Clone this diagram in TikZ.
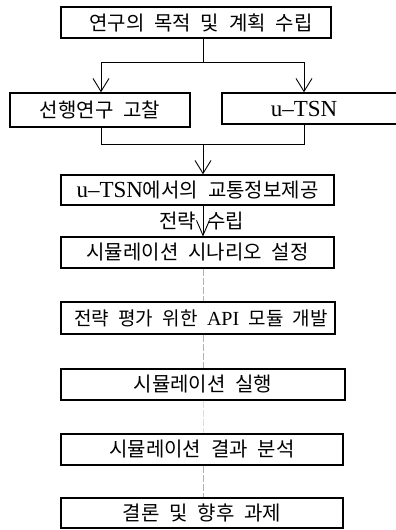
\documentclass[tikz,border=0pt]{standalone}
\usepackage{fontspec}
\setmainfont{Liberation Serif}
\newfontfamily\kr[WordSpace=2.2]{Noto Sans CJK KR}
\usetikzlibrary{arrows.meta}
\newcommand{\lat}[1]{{\fontsize{23}{24}\selectfont\rmfamily #1}}
\begin{document}
\begin{tikzpicture}[x=1pt,y=-1pt,
  box/.style={draw,line width=1.4pt,inner sep=0pt,font=\kr\fontsize{20}{22}\selectfont},
  conn/.style={line width=1pt},
  arr/.style={line width=1pt,-{Straight Barb[length=13pt,width=16pt,line width=0.9pt]}},
  faint/.style={draw=gray!60,line width=0.6pt,dash pattern=on 7pt off 2pt},
  lbl/.style={font=\kr\fontsize{20}{22}\selectfont,inner sep=0pt}]
\useasboundingbox (0,0) rectangle (396,530);
\node[box,minimum width=270pt,minimum height=31pt] (b1) at (196,22.5) {\hspace*{10pt}연구의 목적 및 계획 수립};
\node[box,minimum width=180pt,minimum height=34pt] (b2) at (100,110) {선행연구 고찰};
\node[box,minimum width=190pt,minimum height=31pt] (b3) at (317,108.5) {};
\node[inner sep=0pt] (t3) at (304,108.5) {\lat{u–TSN}};
\node[box,minimum width=273pt,minimum height=30pt] (b4) at (197.5,190) {\lat{u–TSN}에서의 교통정보제공};
\node[box,minimum width=273pt,minimum height=31pt] (b5) at (197.5,252.5) {시뮬레이션 시나리오 설정};
\node[box,minimum width=274pt,minimum height=32pt,font=\kr\fontsize{19}{22}\selectfont] (b6) at (198,318) {\hspace*{6pt}전략 평가 위한 {\fontsize{20}{22}\selectfont\rmfamily API} 모듈 개발};
\node[box,minimum width=284pt,minimum height=31pt] (b7) at (203,384.5) {시뮬레이션 실행};
\node[box,minimum width=282pt,minimum height=31pt] (b8) at (202,449.5) {시뮬레이션 결과 분석};
\node[box,minimum width=282pt,minimum height=30pt] (b9) at (202,513) {결론 및 향후 과제};
% junctions
\coordinate (j1) at (203,62);
\coordinate (jl) at (101,62);
\coordinate (jr) at (304,62);
\coordinate (j2) at (203,144);
\coordinate (kl) at (101,144);
\coordinate (kr) at (304,144);
\coordinate (m1) at (203,205);
\coordinate (m2) at (203,236.5);
\draw[conn] (b1.south -| j1) -- (j1);
\draw[conn] (jl) -- (jr);
\draw[arr] (jl) -- (b2.north -| jl);
\draw[arr] (jr) -- (b3.north -| jr);
\draw[conn] (b2.south -| kl) -- (kl) -- (kr) -- (b3.south -| kr);
\draw[arr] (j2) -- (b4.north -| j2);
\node[lbl,anchor=east] (l1) at (196,221) {전략};
\node[lbl,anchor=west] (l2) at (207,221) {수립};
\draw[line width=1pt,-{Straight Barb[length=15pt,width=13pt,line width=0.9pt]}] (m1) -- (m2);
\draw[faint] (b5.south -| j2) -- (b6.north -| j2);
\draw[faint] (b6.south -| j2) -- (b7.north -| j2);
\draw[faint,draw=gray!25] (b7.south -| j2) -- (b8.north -| j2);
\draw[faint] (b8.south -| j2) -- (b9.north -| j2);
\end{tikzpicture}
\end{document}
